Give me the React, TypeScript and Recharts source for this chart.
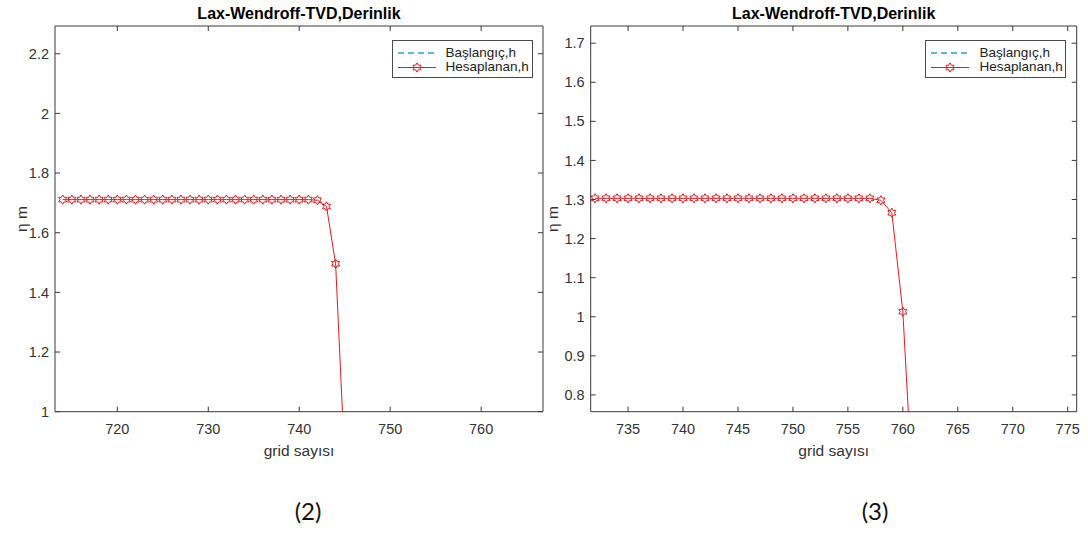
import React from 'react';
import { LineChart, Line, XAxis, YAxis, Legend } from 'recharts';

// ---- Panel (2) data ----
const gridA = [714, 715, 716, 717, 718, 719, 720, 721, 722, 723, 724, 725, 726, 727, 728, 729, 730, 731, 732, 733, 734, 735, 736, 737, 738, 739, 740, 741, 742, 743, 744, 745];
const hA = [1.711, 1.711, 1.711, 1.711, 1.711, 1.711, 1.711, 1.711, 1.711, 1.711, 1.711, 1.711, 1.711, 1.711, 1.711, 1.711, 1.711, 1.711, 1.711, 1.711, 1.711, 1.711, 1.711, 1.711, 1.711, 1.711, 1.711, 1.711, 1.709, 1.688, 1.496, 0.835];
const xTicksA = [720, 730, 740, 750, 760];
const yTicksA = [1, 1.2, 1.4, 1.6, 1.8, 2, 2.2];

// ---- Panel (3) data ----
const gridB = [732, 733, 734, 735, 736, 737, 738, 739, 740, 741, 742, 743, 744, 745, 746, 747, 748, 749, 750, 751, 752, 753, 754, 755, 756, 757, 758, 759, 760, 761];
const hB = [1.303, 1.303, 1.303, 1.303, 1.303, 1.303, 1.303, 1.303, 1.303, 1.303, 1.303, 1.303, 1.303, 1.303, 1.303, 1.303, 1.303, 1.303, 1.303, 1.303, 1.303, 1.303, 1.303, 1.303, 1.303, 1.303, 1.298, 1.266, 1.013, 0.5];
const xTicksB = [735, 740, 745, 750, 755, 760, 765, 770, 775];
const yTicksB = [0.8, 0.9, 1, 1.1, 1.2, 1.3, 1.4, 1.5, 1.6, 1.7];

const TITLE = 'Lax-Wendroff-TVD,Derinlik';
const XLABEL = 'grid sayısı';
const YLABEL = 'η m';
const SERIES_INIT = 'Başlangıç,h';
const SERIES_CALC = 'Hesaplanan,h';

const RED = '#e8191e';
const BLUE = '#2a9fd8';
const AXIS = '#3a3a3a';
const TEXT = '#333333';
const FONT = '"Liberation Sans", Arial, Helvetica, sans-serif';

const Hexagram = (props: any) => {
  const { cx, cy } = props;
  if (cx == null || cy == null || isNaN(cx) || isNaN(cy)) return null;
  const R = 4.6;
  const r = R / Math.sqrt(3);
  const pts: string[] = [];
  for (let i = 0; i < 12; i++) {
    const ang = (-90 + i * 30) * Math.PI / 180;
    const rad = i % 2 === 0 ? R : r;
    pts.push(`${(cx + rad * Math.cos(ang)).toFixed(2)},${(cy + rad * Math.sin(ang)).toFixed(2)}`);
  }
  return <polygon points={pts.join(' ')} fill="none" stroke={RED} strokeWidth={1} />;
};

const LegendBox = () => (
  <div
    style={{
      width: 139,
      height: 36,
      border: `1px solid #4a4a4a`,
      background: '#fff',
      fontFamily: FONT,
      fontSize: 13.5,
      color: '#222',
      position: 'relative',
    }}
  >
    <svg width={50} height={36} style={{ position: 'absolute', left: 0, top: 0 }}>
      <line x1={5} y1={12} x2={43} y2={12} stroke={BLUE} strokeWidth={1.3} strokeDasharray="6 4" />
      <line x1={5} y1={26.5} x2={43} y2={26.5} stroke={RED} strokeWidth={1} />
      <Hexagram cx={24} cy={26.5} />
    </svg>
    <div style={{ position: 'absolute', left: 53, top: 4, lineHeight: '16px', whiteSpace: 'nowrap' }}>{SERIES_INIT}</div>
    <div style={{ position: 'absolute', left: 53, top: 18, lineHeight: '16px', whiteSpace: 'nowrap' }}>{SERIES_CALC}</div>
  </div>
);

type PanelProps = {
  left: number;
  width: number;
  grid: number[];
  values: number[];
  xDomain: [number, number];
  yDomain: [number, number];
  xTicks: number[];
  yTicks: number[];
  marginLeft: number;
  yAxisWidth: number;
  marginRight: number;
  legendLeft: number;
  caption: string;
  captionX: number;
  ylabelX: number;
};

const H = 440;

const Panel = (p: PanelProps) => {
  const data = p.grid.map((g, i) => ({ x: g, h: p.values[i] }));
  const plotLeft = p.marginLeft + p.yAxisWidth;
  const plotRight = p.width - p.marginRight - 1;
  const cx = (plotLeft + plotRight) / 2;
  const tickStyle = { fill: TEXT, fontSize: 14.5, fontFamily: FONT };
  return (
    <div style={{ position: 'absolute', left: p.left, top: 0, width: p.width, height: 533 }}>
      <LineChart
        width={p.width}
        height={H}
        data={data}
        margin={{ top: 25, right: p.marginRight, bottom: 3.3, left: p.marginLeft }}
      >
        <XAxis
          xAxisId="b"
          type="number"
          dataKey="x"
          domain={p.xDomain}
          ticks={p.xTicks}
          allowDataOverflow
          height={25}
          stroke={AXIS}
          tickSize={-5}
          tickMargin={17}
          tick={tickStyle}
          interval={0}
        />
        <XAxis
          xAxisId="t"
          orientation="top"
          type="number"
          dataKey="x"
          domain={p.xDomain}
          ticks={p.xTicks}
          allowDataOverflow
          height={1}
          stroke={AXIS}
          tickSize={-5}
          tickFormatter={() => ''}
          interval={0}
        />
        <YAxis
          yAxisId="l"
          type="number"
          domain={p.yDomain}
          ticks={p.yTicks}
          allowDataOverflow
          width={p.yAxisWidth}
          stroke={AXIS}
          tickSize={-5}
          tickMargin={11}
          tick={tickStyle}
          interval={0}
        />
        <YAxis
          yAxisId="r"
          orientation="right"
          type="number"
          domain={p.yDomain}
          ticks={p.yTicks}
          allowDataOverflow
          width={1}
          stroke={AXIS}
          tickSize={-5}
          tickFormatter={() => ''}
          interval={0}
        />
        <Legend
          layout="horizontal"
          verticalAlign="middle"
          align="center"
          content={() => <LegendBox />}
          wrapperStyle={{ position: 'absolute', left: p.legendLeft, top: 40, width: 141, height: 38 }}
        />
        <Line
          xAxisId="b"
          yAxisId="l"
          type="linear"
          dataKey="h"
          name={SERIES_CALC}
          stroke={RED}
          strokeWidth={1}
          dot={<Hexagram />}
          activeDot={false}
          isAnimationActive={false}
        />
      </LineChart>
      <div
        style={{
          position: 'absolute',
          left: cx - 150,
          width: 300,
          top: 5,
          textAlign: 'center',
          fontFamily: FONT,
          fontWeight: 'bold',
          fontSize: 16,
          color: '#000',
        }}
      >
        {TITLE}
      </div>
      <div
        style={{
          position: 'absolute',
          left: cx - 100,
          width: 200,
          top: 442,
          textAlign: 'center',
          fontFamily: FONT,
          fontSize: 15.5,
          color: TEXT,
        }}
      >
        {XLABEL}
      </div>
      <div
        style={{
          position: 'absolute',
          left: p.ylabelX - 30,
          top: 210,
          width: 60,
          textAlign: 'center',
          fontFamily: FONT,
          fontSize: 15.5,
          color: TEXT,
          transform: 'rotate(-90deg)',
          lineHeight: '18px',
        }}
      >
        {YLABEL}
      </div>
      <div
        style={{
          position: 'absolute',
          left: p.captionX - 40,
          width: 80,
          top: 496,
          textAlign: 'center',
          fontFamily: 'Lato, "Open Sans", sans-serif',
          fontSize: 24,
          color: '#111',
        }}
      >
        {p.caption}
      </div>
    </div>
  );
};

export default function App() {
  return (
    <div style={{ position: 'absolute', left: 0, top: 0, width: 1088, height: 533, background: '#fff', overflow: 'hidden' }}>
      <Panel
        left={0}
        width={545}
        grid={gridA}
        values={hA}
        xDomain={[713.15, 766.8]}
        yDomain={[1, 2.293]}
        xTicks={xTicksA}
        yTicks={yTicksA}
        marginLeft={10}
        yAxisWidth={45}
        marginRight={1}
        legendLeft={391.5}
        caption="(2)"
        captionX={308}
        ylabelX={22}
      />
      <Panel
        left={545}
        width={543}
        grid={gridB}
        values={hB}
        xDomain={[731.6, 775.82]}
        yDomain={[0.757, 1.744]}
        xTicks={xTicksB}
        yTicks={yTicksB}
        marginLeft={5.7}
        yAxisWidth={40}
        marginRight={10.3}
        legendLeft={380.4}
        caption="(3)"
        captionX={330}
        ylabelX={8}
      />
    </div>
  );
}
